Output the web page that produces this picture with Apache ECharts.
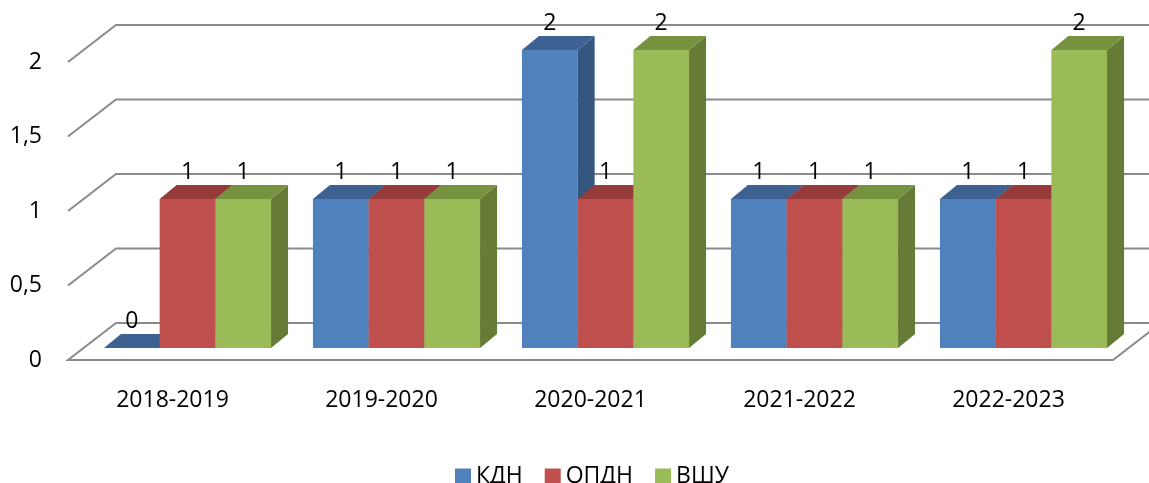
<!DOCTYPE html>
<html>
<head>
<meta charset="utf-8">
<script src="https://cdn.jsdelivr.net/npm/echarts@6/dist/echarts.min.js"></script>
<style>
  html, body { margin: 0; padding: 0; background: #fff; }
  #main { width: 1149px; height: 483px; }
</style>
</head>
<body>
<div id="main"></div>
<script>
// data
var categories = ['2018-2019', '2019-2020', '2020-2021', '2021-2022', '2022-2023'];
var kdn = [0, 1, 2, 1, 1];
var opdn = [1, 1, 1, 1, 1];
var vshu = [1, 1, 2, 1, 2];
var yTicks = [0, 0.5, 1, 1.5, 2];
var seriesNames = ['КДН', 'ОПДН', 'ВШУ'];

// 3d look: wall depth and bar placement (pixels)
var WALL_DX = 48, WALL_DY = -37;
var SHIFT_X = 15, SHIFT_Y = -12;
var DEPTH_X = 17, DEPTH_Y = -14;
var FONT = '"Open Sans", "Liberation Sans", sans-serif';

var palette = [
  { front: '#4f81bd', top: '#3d6191', side: '#35577f' },
  { front: '#c0504d', top: '#953b39', side: '#84332f' },
  { front: '#9bbb59', top: '#77923f', side: '#657b36' }
];

function barRenderer(idx) {
  var c = palette[idx];
  return function (params, api) {
    var ci = api.value(0), v = api.value(1);
    var base = api.coord([ci, 0]);
    var top = api.coord([ci, v]);
    var w = api.size([1, 0])[0] * 0.2665;
    var xl = base[0] + (idx - 1.5) * w + SHIFT_X;
    var xr = xl + w;
    var yb = base[1] + SHIFT_Y;
    var yt = top[1] + SHIFT_Y;
    return {
      type: 'group',
      children: [
        { type: 'rect', shape: { x: xl, y: yt, width: w, height: yb - yt }, style: { fill: c.front } },
        { type: 'polygon', shape: { points: [[xr, yt], [xr + DEPTH_X, yt + DEPTH_Y], [xr + DEPTH_X, yb + DEPTH_Y], [xr, yb]] }, style: { fill: c.side } },
        { type: 'polygon', shape: { points: [[xl, yt], [xr, yt], [xr + DEPTH_X, yt + DEPTH_Y], [xl + DEPTH_X, yt + DEPTH_Y]] }, style: { fill: c.top } },
        { type: 'text', x: xl + w / 2, y: yt - 27, style: { text: String(v).replace('.', ','), fill: '#000', fontSize: 23, fontFamily: FONT, align: 'center', verticalAlign: 'middle' } }
      ]
    };
  };
}

function wallRenderer(params, api) {
  var cs = params.coordSys;
  var v = api.value(1);
  var y = api.coord([0, v])[1];
  var x0 = cs.x, x1 = cs.x + cs.width;
  var style = { stroke: '#8a8a8a', lineWidth: 2, fill: null };
  if (v === 0) {
    return {
      type: 'polygon',
      shape: { points: [[x0, y], [x1, y], [x1 + WALL_DX, y + WALL_DY], [x0 + WALL_DX, y + WALL_DY]] },
      style: style
    };
  }
  return {
    type: 'polyline',
    shape: { points: [[x0, y], [x0 + WALL_DX, y + WALL_DY], [x1 + WALL_DX, y + WALL_DY]] },
    style: style
  };
}

var chart = echarts.init(document.getElementById('main'));
var barData = [kdn, opdn, vshu];

var series = [{
  type: 'custom',
  name: 'walls',
  renderItem: wallRenderer,
  data: yTicks.map(function (v) { return [0, v]; }),
  encode: { x: 0, y: 1 },
  z: 1,
  silent: true
}];
barData.forEach(function (arr, i) {
  series.push({
    type: 'custom',
    name: seriesNames[i],
    renderItem: barRenderer(i),
    data: arr.map(function (v, k) { return [k, v]; }),
    encode: { x: 0, y: 1 },
    itemStyle: { color: palette[i].front },
    z: 2 + i
  });
});

chart.setOption({
  animation: false,
  grid: { left: 68, right: 36, top: 62, bottom: 123 },
  legend: {
    data: seriesNames,
    left: 450,
    top: 460,
    icon: 'rect',
    itemWidth: 16,
    itemHeight: 16,
    itemGap: 22,
    textStyle: { color: '#000', fontSize: 23, fontFamily: FONT }
  },
  xAxis: {
    type: 'category',
    data: categories,
    axisLine: { show: false },
    axisTick: { show: false },
    splitLine: { show: false },
    axisLabel: { color: '#000', fontSize: 23, fontFamily: FONT, margin: 29 }
  },
  yAxis: {
    type: 'value',
    min: 0,
    max: 2,
    interval: 0.5,
    axisLine: { show: false },
    axisTick: { show: false },
    splitLine: { show: false },
    axisLabel: {
      color: '#000', fontSize: 23, fontFamily: FONT, margin: 26,
      formatter: function (v) { return String(v).replace('.', ','); }
    }
  },
  series: series
});
</script>
</body>
</html>
